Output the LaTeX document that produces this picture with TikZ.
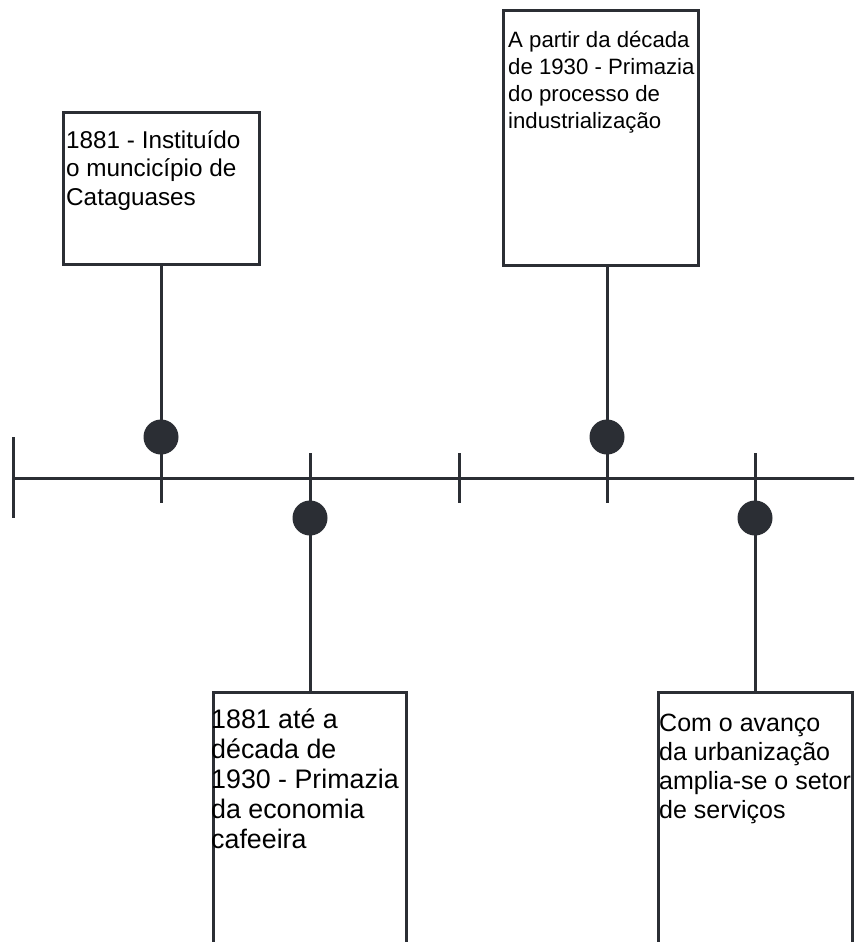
\documentclass[tikz,border=0pt]{standalone}
\usepackage{fontspec}
\setmainfont{Liberation Sans}
\definecolor{ink}{HTML}{2B2E34}
\begin{document}
\begin{tikzpicture}[x=1pt,y=-1pt,
  box/.style={draw=ink, fill=white, rectangle, inner sep=0pt, line width=3pt},
  dot/.style={circle, fill=ink, inner sep=0pt, minimum size=35pt},
  lbl/.style={anchor=base west, align=left, inner sep=0pt, text=black},
  link/.style={draw=ink, line width=3pt}]
\useasboundingbox (0,0) rectangle (854,942);
\clip (0,0) rectangle (854,942);
% boxes
\node[box, minimum width=196pt, minimum height=152pt] (b1) at (161,188) {};
\node[box, minimum width=195pt, minimum height=254pt] (b2) at (600.5,138) {};
\node[box, minimum width=193pt, minimum height=300pt] (b3) at (309.5,842) {};
\node[box, minimum width=194pt, minimum height=300pt] (b4) at (755,842) {};
% timeline coordinates
\coordinate (L) at (13,478);
\coordinate (R) at (860,478);
\coordinate (Lt) at (13,437);
\coordinate (Lb) at (13,518);
\coordinate (t1) at (161,503);
\coordinate (t2) at (310,453);
\coordinate (t3a) at (459,453);
\coordinate (t3b) at (459,503);
\coordinate (t4) at (607,503);
\coordinate (t5) at (755,453);
% dots
\coordinate (d1c) at (161,437);
\coordinate (d2c) at (310,518);
\coordinate (d3c) at (607,437);
\coordinate (d4c) at (755,518);
% lines
\draw[link] (L) -- (R);
\draw[link] (Lt) -- (Lb);
\draw[link] (t3a) -- (t3b);
\draw[link] (b1.south -| d1c) -- (t1);
\draw[link] (t2) -- (b3.north -| d2c);
\draw[link] (b2.south -| d3c) -- (t4);
\draw[link] (t5) -- (b4.north -| d4c);
\node[dot] (d1) at (d1c) {};
\node[dot] (d2) at (d2c) {};
\node[dot] (d3) at (d3c) {};
\node[dot] (d4) at (d4c) {};
% labels (anchored at the baseline of the last line)
\node[lbl, font=\fontsize{24.3}{28.5}\selectfont] (l1) at (66,205) {1881 - Instituído\\o muncicípio de\\Cataguases};
\node[lbl, font=\fontsize{22.2}{27}\selectfont] (l2) at (508,128) {A partir da década\\de 1930 - Primazia\\do processo de\\industrialização};
\node[lbl, font=\fontsize{26.8}{30}\selectfont] (l3) at (211,848) {1881 até a\\década de\\1930 - Primazia\\da economia\\cafeeira};
\node[lbl, font=\fontsize{25}{28.7}\selectfont] (l4) at (659,818) {Com o avanço\\da urbanização\\amplia-se o setor\\de serviços};
\end{tikzpicture}
\end{document}
